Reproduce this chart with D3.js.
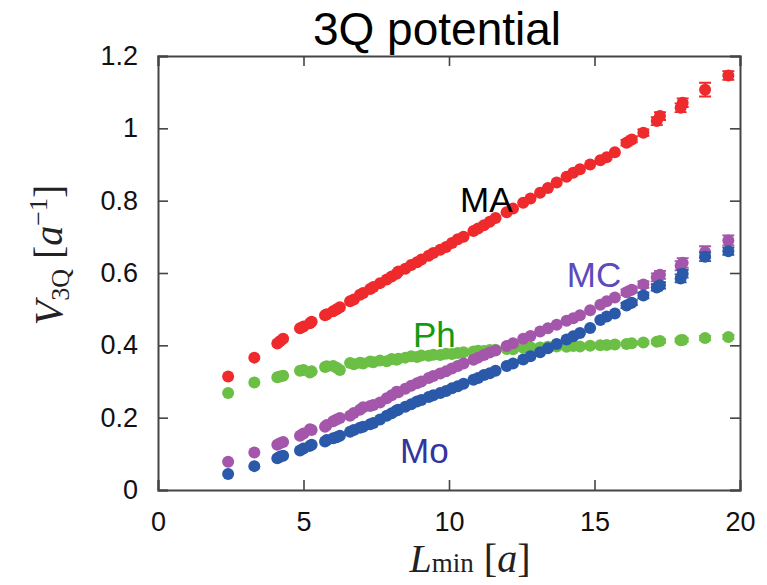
<!DOCTYPE html>
<html>
<head>
<meta charset="utf-8">
<script src="https://cdn.jsdelivr.net/npm/d3@7"></script>
<style>
  body { margin: 0; background: #fff; }
  svg text { font-family: "Liberation Sans", Arial, sans-serif; }
</style>
</head>
<body>
<div id="chart"></div>
<script>
// L_min lattice points shared by all series
const lmin = [2.41, 3.31, 4.10, 4.19, 4.30, 4.88, 5.00, 5.22, 5.28, 5.74, 5.80, 6.02, 6.14, 6.25, 6.60, 6.73,
  6.94, 7.05, 7.29, 7.40, 7.63, 7.86, 8.03, 8.20, 8.26, 8.50, 8.70, 8.90, 9.05, 9.30, 9.46, 9.70, 9.90,
  10.10, 10.30, 10.50, 10.84, 11.00, 11.20, 11.40, 11.60, 11.98, 12.20, 12.55, 12.80, 13.13, 13.40, 13.70,
  14.04, 14.27, 14.50, 14.85, 15.20, 15.42, 15.70, 16.10, 16.28, 16.68, 17.14, 17.25, 17.96, 18.03, 18.80, 19.60];

const maValues = [.314, .366, .405, .411, .418, .447, .452, .461, .465, .483, .486, .494, .500, .505, .522, .527,
  .540, .545, .556, .561, .572, .582, .590, .598, .604, .612, .622, .630, .637, .648, .655, .664, .672,
  .683, .693, .700, .716, .723, .732, .742, .752, .768, .778, .794, .806, .822, .835, .850,
  .866, .877, .887, .900, .912, .920, .934, .960, .969, .988, 1.020, 1.034, 1.057, 1.071, 1.107, 1.146];

const phValues = [.268, .297, .312, .314, .316, .330, .332, .325, .328, .340, .342, .343, .338, .332, .351, .348,
  .352, .350, .355, .353, .358, .356, .362, .360, .363, .366, .370, .368, .372, .371, .374, .373, .377,
  .376, .379, .381, .383, .385, .384, .387, .388, .390, .389, .393, .395, .394, .396, .397,
  .396, .398, .397, .399, .400, .401, .402, .404, .406, .408, .410, .412, .414, .415, .420, .423];

const mcValues = [.078, .104, .125, .129, .133, .150, .156, .168, .166, .175, .180, .190, .195, .199, .205, .213,
  .222, .229, .232, .235, .242, .254, .262, .272, .270, .280, .288, .295, .300, .310, .315, .322, .328,
  .336, .343, .350, .360, .366, .373, .380, .386, .398, .406, .418, .426, .438, .447, .457,
  .468, .475, .483, .497, .512, .522, .532, .547, .554, .568, .588, .595, .620, .628, .658, .690];

const moValues = [.044, .066, .088, .092, .095, .109, .115, .122, .125, .134, .138, .143, .146, .150, .161, .166,
  .172, .175, .182, .185, .195, .205, .212, .220, .222, .230, .237, .245, .249, .257, .262, .268, .274,
  .281, .287, .294, .305, .310, .318, .323, .330, .343, .350, .361, .370, .381, .392, .404,
  .416, .425, .434, .448, .470, .480, .488, .510, .518, .538, .560, .566, .585, .598, .645, .660];

// error bars of the last points (from L = 16.10 on); earlier ones hide under the dots
const tailStart = 55;
const maTailErr = [.008, .008, .009, .011, .011, .012, .012, .019, .012];
const phTailErr = [.004, .004, .004, .005, .005, .005, .005, .006, .006];
const mcTailErr = [.008, .008, .009, .011, .011, .013, .013, .016, .014];
const moTailErr = [.007, .007, .008, .009, .009, .011, .011, .012, .010];

const xTicks = [0, 5, 10, 15, 20];
const yTicks = [0, 0.2, 0.4, 0.6, 0.8, 1, 1.2];

const series = [
  {name: "Ph", values: phValues, err: phTailErr, color: "#6cbf45"},
  {name: "MA", values: maValues, err: maTailErr, color: "#ee2a2c"},
  {name: "MC", values: mcValues, err: mcTailErr, color: "#a457aa"},
  {name: "Mo", values: moValues, err: moTailErr, color: "#2b59a9"}
];

const labels = [
  {text: "MA", x: 10.38, y: 0.770, color: "#000000"},
  {text: "Ph", x: 8.76, y: 0.396, color: "#139a13"},
  {text: "MC", x: 14.05, y: 0.562, color: "#5b4bbb"},
  {text: "Mo", x: 8.32, y: 0.075, color: "#33349c"}
];

const width = 767, height = 585;
const margin = {top: 56, right: 27, bottom: 95, left: 158};
const tickSize = 10;
const dotRad = 6;

const svg = d3.select("#chart").append("svg")
  .attr("width", width)
  .attr("height", height);

const x = d3.scaleLinear().domain([0, 20]).range([margin.left, width - margin.right]);
const y = d3.scaleLinear().domain([0, 1.2]).range([height - margin.bottom, margin.top]);

// axes, ticks pointing inward, mirrored on top and right
svg.append("g")
  .attr("transform", `translate(0,${y(0)})`)
  .call(d3.axisBottom(x).tickValues(xTicks).tickSize(-tickSize).tickPadding(22).tickFormat(d3.format("d")));
svg.append("g")
  .attr("transform", `translate(0,${y(1.2)})`)
  .call(d3.axisTop(x).tickValues(xTicks).tickSize(-tickSize).tickFormat(""));
svg.append("g")
  .attr("transform", `translate(${x(0)},0)`)
  .call(d3.axisLeft(y).tickValues(yTicks).tickSize(-tickSize).tickPadding(20).tickFormat(d => d === 0 || d === 1 ? d : d3.format(".1f")(d)));
svg.append("g")
  .attr("transform", `translate(${x(20)},0)`)
  .call(d3.axisRight(y).tickValues(yTicks).tickSize(-tickSize).tickFormat(""));

svg.selectAll(".domain").attr("stroke", "#444").attr("stroke-width", 2);
svg.selectAll(".tick line").attr("stroke", "#444").attr("stroke-width", 1.6);
svg.selectAll(".tick text")
  .style("font-family", "'Liberation Sans', Arial, sans-serif")
  .style("font-size", "27px")
  .attr("fill", "#111");

// data
series.forEach(s => {
  const pts = lmin.map((l, i) => ({l, v: s.values[i], e: i >= tailStart ? s.err[i - tailStart] : 0}));
  const g = svg.append("g");
  const bars = pts.filter(d => d.e > 0);
  g.selectAll(".eb")
    .data(bars)
    .join("path")
    .attr("d", d => {
      const cx = x(d.l), y0 = y(d.v - d.e), y1 = y(d.v + d.e);
      return `M${cx},${y0}V${y1}M${cx - 6},${y0}H${cx + 6}M${cx - 6},${y1}H${cx + 6}`;
    })
    .attr("fill", "none")
    .attr("stroke", s.color)
    .attr("stroke-width", 1.8);
  g.selectAll("circle")
    .data(pts)
    .join("circle")
    .attr("cx", d => x(d.l))
    .attr("cy", d => y(d.v))
    .attr("r", dotRad)
    .attr("fill", s.color);
});

// series labels
svg.selectAll(".series-label")
  .data(labels)
  .join("text")
  .attr("class", "series-label")
  .attr("x", d => x(d.x))
  .attr("y", d => y(d.y))
  .attr("fill", d => d.color)
  .style("font-size", "35px")
  .text(d => d.text);

// title
svg.append("text")
  .attr("x", 437)
  .attr("y", 45)
  .attr("text-anchor", "middle")
  .style("font-size", "46px")
  .text("3Q potential");

// axis titles (serif, math style)
const serif = "'Liberation Serif', 'DejaVu Serif', serif";
const xt = svg.append("text")
  .attr("x", 470)
  .attr("y", 572)
  .attr("text-anchor", "middle")
  .style("font-family", serif)
  .style("font-size", "40px")
  .attr("fill", "#222");
xt.append("tspan").style("font-style", "italic").text("L");
xt.append("tspan").style("font-size", "27px").text("min");
xt.append("tspan").text(" [");
xt.append("tspan").style("font-style", "italic").text("a");
xt.append("tspan").text("]");

const yt = svg.append("text")
  .attr("transform", "translate(62,255) rotate(-90)")
  .attr("text-anchor", "middle")
  .style("font-family", serif)
  .style("font-size", "40px")
  .attr("fill", "#222");
yt.append("tspan").style("font-style", "italic").text("V");
yt.append("tspan").attr("dy", 7).style("font-size", "26px").text("3Q");
yt.append("tspan").attr("dy", -7).text("  [");
yt.append("tspan").style("font-style", "italic").text("a");
yt.append("tspan").attr("dy", -15).style("font-size", "26px").text("−1");
yt.append("tspan").attr("dy", 15).text("]");
</script>
</body>
</html>
